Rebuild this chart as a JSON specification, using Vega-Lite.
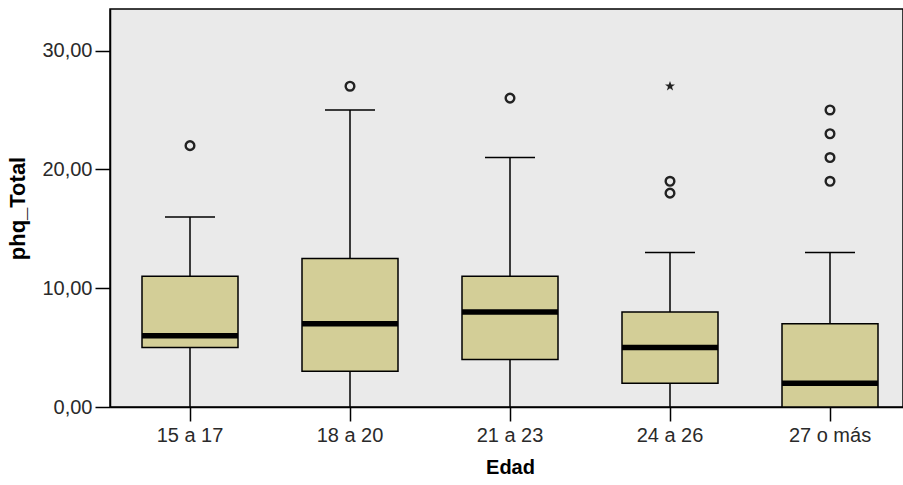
{
  "$schema": "https://vega.github.io/schema/vega-lite/v6.json",
  "autosize": {"type": "none"},
  "width": 793,
  "height": 398,
  "padding": {"left": 110, "top": 9, "right": 0, "bottom": 78},
  "background": "white",
  "config": {
    "view": {"fill": "#EAEAEA", "stroke": "black", "strokeWidth": 1.5},
    "font": "Liberation Sans",
    "axis": {"labelFont": "Liberation Sans", "titleFont": "Liberation Sans", "labelColor": "#2a2a2a", "titleColor": "#000000", "domainColor": "black", "tickColor": "black", "grid": false}
  },
  "datasets": {
    "boxes": [
      {"Edad": "15 a 17", "lower": 0, "q1": 5, "median": 6, "q3": 11, "upper": 16},
      {"Edad": "18 a 20", "lower": 0, "q1": 3, "median": 7, "q3": 12.5, "upper": 25},
      {"Edad": "21 a 23", "lower": 0, "q1": 4, "median": 8, "q3": 11, "upper": 21},
      {"Edad": "24 a 26", "lower": 0, "q1": 2, "median": 5, "q3": 8, "upper": 13},
      {"Edad": "27 o más", "lower": 0, "q1": 0, "median": 2, "q3": 7, "upper": 13}
    ],
    "outliers": [
      {"Edad": "15 a 17", "value": 22, "type": "outlier"},
      {"Edad": "18 a 20", "value": 27, "type": "outlier"},
      {"Edad": "21 a 23", "value": 26, "type": "outlier"},
      {"Edad": "24 a 26", "value": 19, "type": "outlier"},
      {"Edad": "24 a 26", "value": 18, "type": "outlier"},
      {"Edad": "24 a 26", "value": 27, "type": "extreme"},
      {"Edad": "27 o más", "value": 25, "type": "outlier"},
      {"Edad": "27 o más", "value": 23, "type": "outlier"},
      {"Edad": "27 o más", "value": 21, "type": "outlier"},
      {"Edad": "27 o más", "value": 19, "type": "outlier"}
    ]
  },
  "encoding": {
    "x": {
      "field": "Edad", "type": "nominal", "sort": null,
      "scale": {"domain": ["15 a 17", "18 a 20", "21 a 23", "24 a 26", "27 o más"], "range": [0, 800], "paddingInner": 0, "paddingOuter": 0},
      "axis": {"title": "Edad", "labelAngle": 0, "labelFontSize": 20, "titleFontSize": 20, "titleFontWeight": "bold", "tickSize": 14, "tickWidth": 1.5, "domainWidth": 1.5, "labelPadding": 4, "titlePadding": 12}
    }
  },
  "layer": [
    {
      "data": {"name": "boxes"},
      "mark": {"type": "rule", "color": "black", "strokeWidth": 1.5},
      "encoding": {
        "y": {"field": "lower", "type": "quantitative", "scale": {"domain": [0, 33.5], "nice": false}, "axis": {"title": "phq_Total", "values": [0, 10, 20, 30], "labelExpr": "replace(format(datum.value, '.2f'), '.', ',')", "labelFontSize": 20, "titleFontSize": 22, "titleFontWeight": "bold", "tickSize": 15, "tickWidth": 1.5, "domainWidth": 1.5, "labelPadding": 3, "titlePadding": 12}},
        "y2": {"field": "upper"}
      }
    },
    {
      "data": {"name": "boxes"},
      "mark": {"type": "tick", "color": "black", "opacity": 1, "size": 50, "thickness": 1.5},
      "encoding": {"y": {"field": "upper", "type": "quantitative"}}
    },
    {
      "data": {"name": "boxes"},
      "mark": {"type": "bar", "fill": "#D3CE97", "opacity": 1, "stroke": "black", "strokeWidth": 1.5, "width": {"band": 0.6}},
      "encoding": {
        "y": {"field": "q1", "type": "quantitative"},
        "y2": {"field": "q3"}
      }
    },
    {
      "data": {"name": "boxes"},
      "mark": {"type": "tick", "color": "black", "opacity": 1, "size": 96, "thickness": 5.5},
      "encoding": {"y": {"field": "median", "type": "quantitative"}}
    },
    {
      "data": {"name": "outliers"},
      "transform": [{"filter": "datum.type == 'outlier'"}],
      "mark": {"type": "point", "shape": "circle", "filled": false, "opacity": 1, "stroke": "#222222", "strokeWidth": 2.4, "size": 75},
      "encoding": {"y": {"field": "value", "type": "quantitative"}}
    },
    {
      "data": {"name": "outliers"},
      "transform": [{"filter": "datum.type == 'extreme'"}],
      "mark": {"type": "point", "shape": "M0,-1L0.24,-0.33L0.95,-0.31L0.38,0.12L0.59,0.81L0,0.4L-0.59,0.81L-0.38,0.12L-0.95,-0.31L-0.24,-0.33Z", "filled": true, "opacity": 1, "fill": "#222222", "size": 110},
      "encoding": {"y": {"field": "value", "type": "quantitative"}}
    }
  ]
}
